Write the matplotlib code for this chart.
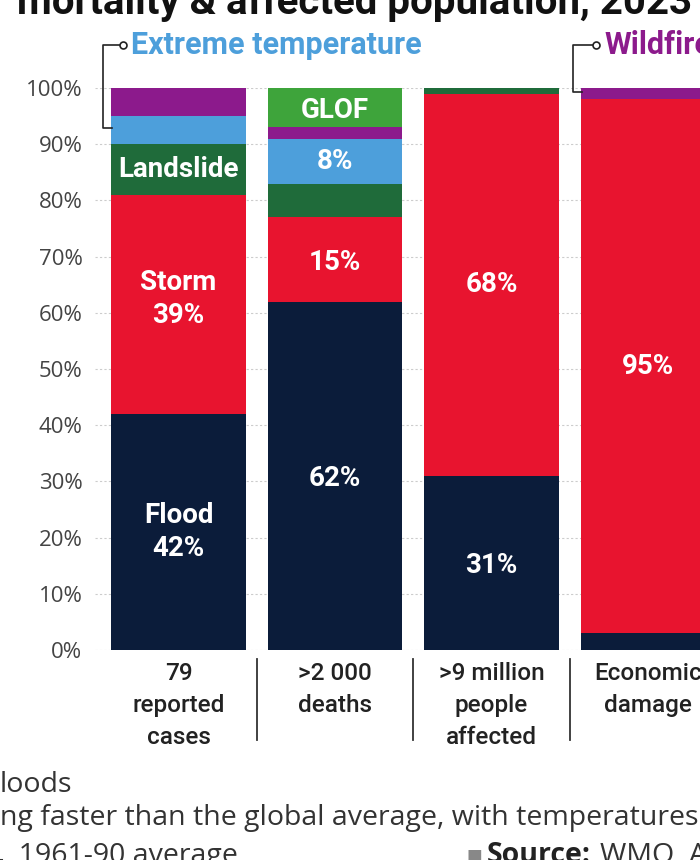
import numpy as np
import matplotlib.pyplot as plt

# data (percent shares of each total)
columns = ["79\nreported\ncases", ">2 000\ndeaths", ">9 million\npeople\naffected", "Economic\ndamage"]
flood = [42, 62, 31, 3]
storm = [39, 15, 68, 95]
landslide = [9, 6, 1, 0]
extreme_temp = [5, 8, 0, 0]
wildfire = [5, 2, 0, 2]
glof = [0, 7, 0, 0]

yticks = [0, 10, 20, 30, 40, 50, 60, 70, 80, 90, 100]

C_FLOOD = "#0b1c3a"
C_STORM = "#e8142f"
C_LAND = "#1f6b3a"
C_TEMP = "#4d9fdb"
C_FIRE = "#8c1a8c"
C_GLOF = "#3ea43b"
narrow = "Roboto"

W, H = 700, 860
fig = plt.figure(figsize=(7, 8.6), dpi=100)
fig.patch.set_facecolor("white")

# axes placed in pixels: 0% at y=650, 100% at y=88
ax = fig.add_axes([95 / W, (H - 650) / H, (700 - 95) / W, (650 - 88) / H])
step = 156.5
x = np.arange(len(columns))
ax.set_xlim((95 - 178.5) / step, (700 - 178.5) / step)
ax.set_ylim(0, 100)

width = 0.86
bottom = np.zeros(len(columns))
for vals, col in [(flood, C_FLOOD), (storm, C_STORM), (landslide, C_LAND),
                  (extreme_temp, C_TEMP), (wildfire, C_FIRE), (glof, C_GLOF)]:
    ax.bar(x, vals, width, bottom=bottom, color=col, zorder=3, linewidth=0)
    bottom += np.array(vals)

ax.set_yticks(yticks)
ax.set_yticklabels([f"{t}%" for t in yticks], fontsize=16, color="#444444", family="Open Sans")
ax.tick_params(axis="y", length=0, pad=9)
ax.set_xticks([])
ax.grid(axis="y", color="#cccccc", linestyle=(0, (2, 2)), linewidth=0.8, zorder=0)
for s in ax.spines.values():
    s.set_visible(False)

lab = dict(color="white", fontsize=20, fontweight="bold", family=narrow,
           ha="center", va="center", zorder=5, linespacing=1.3)
ax.text(0, 21, "Flood\n42%", **lab)
ax.text(0, 62.5, "Storm\n39%", **lab)
ax.text(0, 85.5, "Landslide", **lab)
ax.text(1, 30.5, "62%", **lab)
ax.text(1, 69, "15%", **lab)
ax.text(1, 87, "8%", **lab)
ax.text(1, 96, "GLOF", **lab)
ax.text(2, 65, "68%", **lab)
ax.text(2, 15, "31%", **lab)
ax.text(3, 50.5, "95%", **lab)

# column captions under the bars
for i, c in enumerate(columns):
    ax.text(i, -2.2, c, ha="center", va="top", fontsize=17.5, color="#222222",
            family=narrow, fontweight="medium", linespacing=1.5, clip_on=False)
for i in range(3):
    ax.plot([i + 0.5, i + 0.5], [-1.6, -16], color="#333333", lw=1.3, clip_on=False)

# bracket callouts
def callout(tx, ty, bx, by, text, color):
    fig.lines.append(plt.Line2D([tx - 5, bx - 8, bx - 8, bx + 1],
                                [H - ty, H - ty, H - by, H - by],
                                transform=None, color="#222222", lw=1.2))
    fig.lines.append(plt.Line2D([tx - 5], [H - ty], transform=None, marker="o",
                                ms=5, mfc="white", mec="#222222", mew=1.2))
    fig.text((tx + 3) / W, 1 - ty / H, text, color=color, fontsize=22,
             fontweight="bold", family=narrow, va="center", ha="left")

callout(128, 45, 111, 128, "Extreme temperature", C_TEMP)
callout(601, 45, 581, 92, "Wildfire", C_FIRE)

# clipped title remnant at the top
fig.text(17 / W, 1 - 14 / H, "mortality & affected population, 2023", fontsize=29,
         fontweight="bold", family="Roboto", color="#111111", va="baseline")

# rule and footnote lines
fig.lines.append(plt.Line2D([5 / W, 1], [1 - 758 / H, 1 - 758 / H], color="#333333", lw=2.2))
foot = dict(fontsize=20.5, family="Open Sans", color="#333333", va="baseline")
fig.text(0, 1 - 792 / H, "loods", **foot)
fig.text(0, 1 - 825 / H, "ng faster than the global average, with temperatures", **foot)
fig.text(4 / W, 1 - 863 / H, ", 1961-90 average", **foot)
fig.text(466 / W, 1 - 861 / H, "\u25a0", fontsize=12, color="#888888", va="baseline")
fig.text(487 / W, 1 - 863 / H, "Source:", fontsize=20.5, family="Open Sans",
         fontweight="bold", color="#222222", va="baseline")
fig.text(600 / W, 1 - 863 / H, "WMO, AP", **foot)

fig.savefig("out.png", dpi=100)
